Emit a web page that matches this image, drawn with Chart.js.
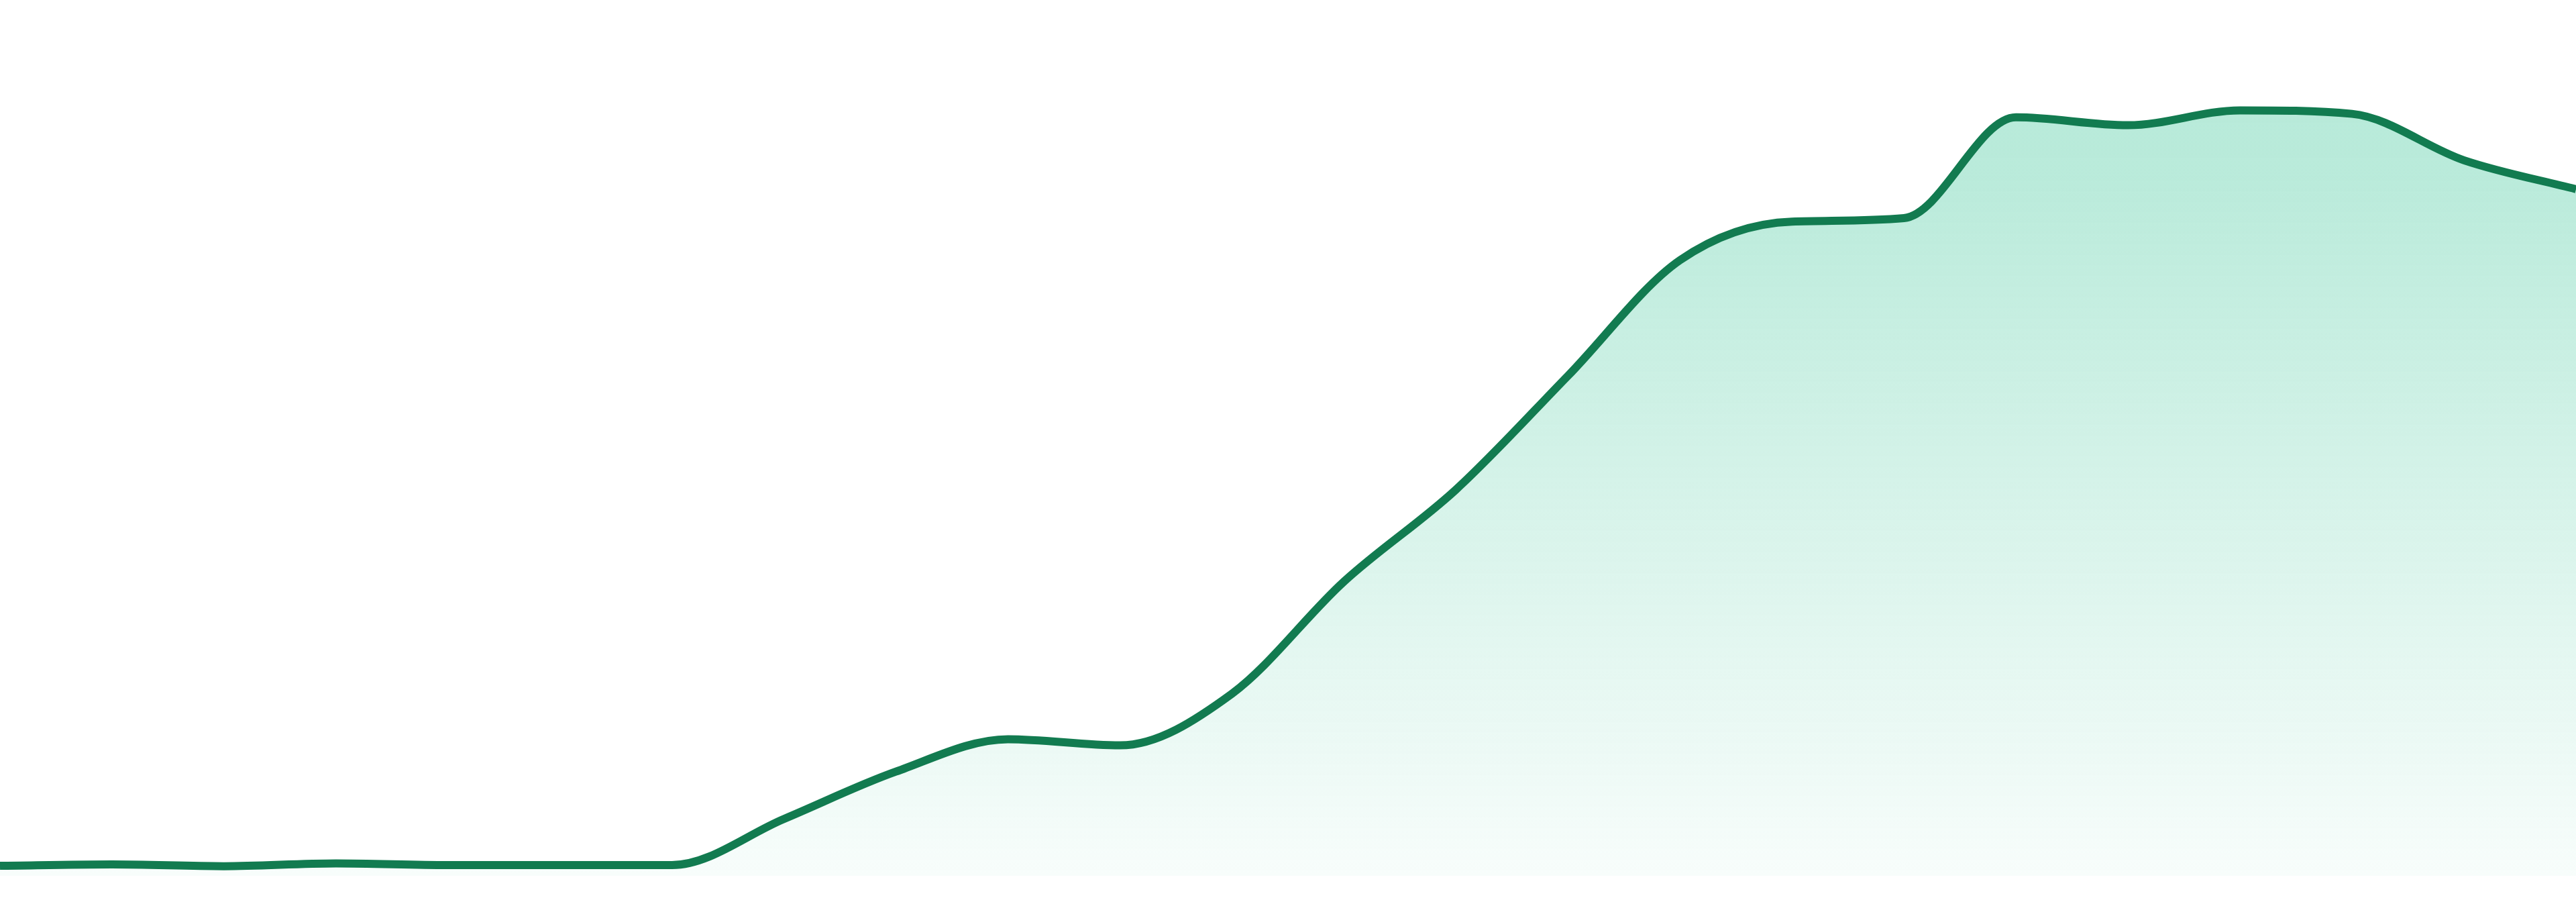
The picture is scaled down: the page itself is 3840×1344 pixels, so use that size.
<!DOCTYPE html>
<html>
<head>
<meta charset="utf-8">
<script src="https://cdn.jsdelivr.net/npm/chart.js@4"></script>
<style>
  html, body { margin: 0; padding: 0; background: #ffffff; }
  .wrap { width: 3840px; height: 1344px; position: relative; }
</style>
</head>
<body>
<div class="wrap"><canvas id="trend"></canvas></div>
<script>
// one point per period, 24 periods
const labels = [
  'P1', 'P2', 'P3', 'P4', 'P5', 'P6', 'P7', 'P8', 'P9', 'P10', 'P11', 'P12',
  'P13', 'P14', 'P15', 'P16', 'P17', 'P18', 'P19', 'P20', 'P21', 'P22', 'P23', 'P24'
];
const values = [
  1.15, 1.3, 1.1, 1.42, 1.23, 1.23, 1.23, 6.5, 11.9, 15.6, 14.9, 20.8,
  33.6, 44.1, 57.1, 70.3, 74.7, 75.1, 86.6, 85.7, 87.4, 87.0, 81.7, 78.4
];
const yMin = 0;
const yMax = 100;

const canvas = document.getElementById('trend');

new Chart(canvas, {
  type: 'line',
  data: {
    labels,
    datasets: [
      {
        data: values,
        borderColor: '#127b50',
        borderWidth: 12,
        pointRadius: 0,
        pointHoverRadius: 0,
        cubicInterpolationMode: 'monotone',
        fill: 'origin',
        backgroundColor: (context) => {
          const { ctx, chartArea } = context.chart;
          if (!chartArea) return 'rgba(16, 185, 129, 0.15)';
          // gradient color for area
          const gradient = ctx.createLinearGradient(0, chartArea.top, 0, chartArea.bottom);
          gradient.addColorStop(0, 'rgba(16, 185, 129, 0.31)');
          gradient.addColorStop(0.2, 'rgba(16, 185, 129, 0.29)');
          gradient.addColorStop(1, 'rgba(16, 185, 129, 0.03)');
          return gradient;
        }
      }
    ]
  },
  options: {
    responsive: true,
    maintainAspectRatio: false,
    animation: false,
    layout: { padding: { left: 0, right: 0, top: 0, bottom: 39 } },
    plugins: {
      legend: { display: false },
      tooltip: { enabled: false }
    },
    scales: {
      x: { display: false, offset: false },
      y: { display: false, min: yMin, max: yMax }
    }
  }
});
</script>
</body>
</html>
